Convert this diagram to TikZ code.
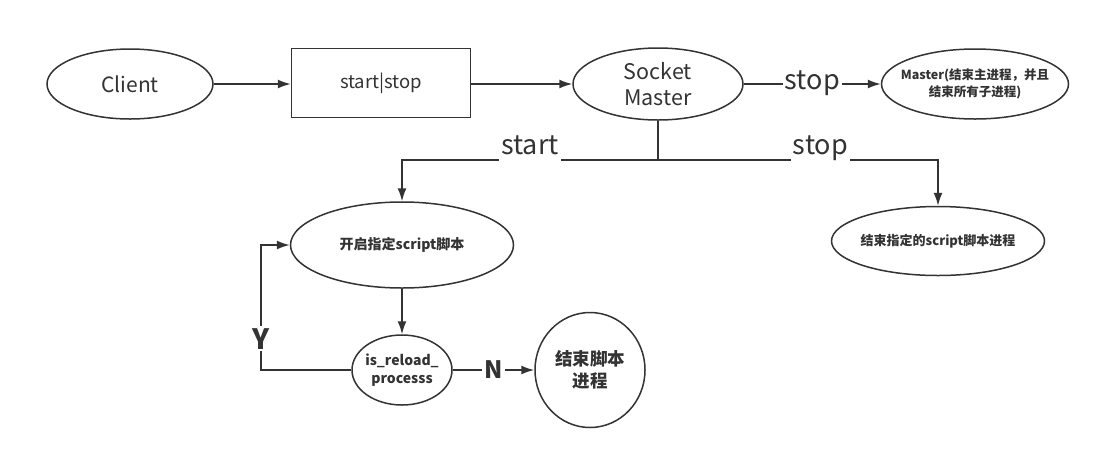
\documentclass[tikz,border=0pt]{standalone}
\usepackage{fontspec}
\setmainfont{Noto Sans CJK SC}
\usetikzlibrary{shapes.geometric,arrows.meta}
\definecolor{ink}{HTML}{333333}

\begin{document}
\begin{tikzpicture}[x=1pt,y=-1pt,
  oval/.style={draw=ink,text=ink,line width=1.5pt,ellipse,inner sep=-20pt,align=center},
  box/.style={draw=ink,text=ink,line width=1.5pt,rectangle,inner sep=0pt},
  link/.style={draw=ink,line width=1.5pt},
  arr/.style={link,-{Latex[length=13pt,width=9pt]}},
  lbl/.style={fill=white,text=ink,inner sep=2pt,font=\fontsize{27}{30}\selectfont},
  branch/.style={lbl,anchor=south,yshift=-2pt,text depth=5pt}]
  \useasboundingbox (0,0) rectangle (1099,459);

  % Draw nodes
  \node[oval,minimum width=166pt,minimum height=70pt,font=\fontsize{21}{25}\selectfont] (client) at (130,84) {Client};
  \node[box,minimum width=179pt,minimum height=69pt,font=\fontsize{18.5}{22}\selectfont] (cmd) at (381,83) {start|stop};
  \node[oval,minimum width=170pt,minimum height=72pt,font=\fontsize{21.5}{26}\selectfont] (sm) at (658,84) {Socket\\Master};
  \node[oval,minimum width=187pt,minimum height=70pt,font=\bfseries\fontsize{12.5}{17}\selectfont] (master) at (975,84) {Master(结束主进程，并且\\结束所有子进程)};
  \node[oval,minimum width=223pt,minimum height=86pt,font=\bfseries\fontsize{14}{17}\selectfont] (run) at (402,245) {开启指定script脚本};
  \node[oval,minimum width=213pt,minimum height=69pt,font=\bfseries\fontsize{13}{16}\selectfont] (kill) at (938,241) {结束指定的script脚本进程};
  \node[oval,minimum width=100pt,minimum height=70pt,font=\bfseries\fontsize{14}{18}\selectfont] (reload) at (402,370) {is\_reload\_\\processs};
  \node[oval,minimum width=110pt,minimum height=115pt,font=\bfseries\fontsize{17.5}{22}\selectfont] (end) at (590,370) {结束脚本\\进程};

  % Draw connectors
  \draw[arr] (client) -- (cmd.west |- client);
  \draw[arr] (cmd.east |- sm) -- (sm);
  \draw[arr] (sm) -- node[lbl,anchor=mid,yshift=-3pt] {stop} (master);

  \coordinate (fork) at (658,160);
  \draw[link] (sm) -- (fork);
  \draw[arr] (fork) -| node[branch,pos=0.25] {start} (run);
  \draw[arr] (fork) -| node[branch,pos=0.29] {stop} (kill);

  \draw[arr] (run) -- (reload);
  \coordinate (loop) at (261,370);
  \draw[arr] (reload) -- (loop) |- node[lbl,pos=0.125,font=\bfseries\fontsize{28}{30}\selectfont] {Y} (run);
  \draw[arr] (reload) -- node[lbl,font=\bfseries\fontsize{24}{26}\selectfont] {N} (end);

\end{tikzpicture}
\end{document}
